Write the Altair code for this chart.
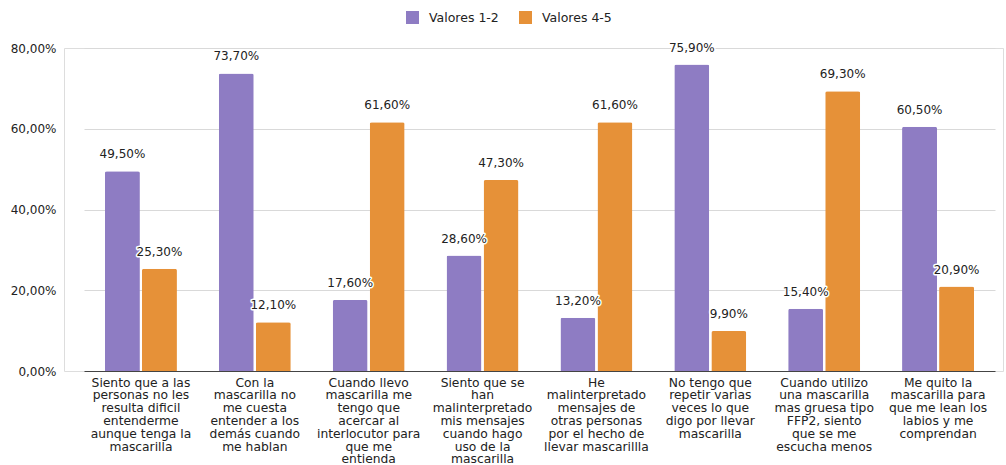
import altair as alt
import pandas as pd

# Survey statements (line breaks as shown under each group)
categorias = [
    "Siento que a las\npersonas no les\nresulta dificil\nentenderme\naunque tenga la\nmascarilla",
    "Con la\nmascarilla no\nme cuesta\nentender a los\ndemás cuando\nme hablan",
    "Cuando llevo\nmascarilla me\ntengo que\nacercar al\ninterlocutor para\nque me\nentienda",
    "Siento que se\nhan\nmalinterpretado\nmis mensajes\ncuando hago\nuso de la\nmascarilla",
    "He\nmalinterpretado\nmensajes de\notras personas\npor el hecho de\nllevar mascarillla",
    "No tengo que\nrepetir varias\nveces lo que\ndigo por llevar\nmascarilla",
    "Cuando utilizo\nuna mascarilla\nmas gruesa tipo\nFFP2, siento\nque se me\nescucha menos",
    "Me quito la\nmascarilla para\nque me lean los\nlabios y me\ncomprendan",
]

series = ["Valores 1-2", "Valores 4-5"]
valores_1_2 = [49.5, 73.7, 17.6, 28.6, 13.2, 75.9, 15.4, 60.5]
valores_4_5 = [25.3, 12.1, 61.6, 47.3, 61.6, 9.9, 69.3, 20.9]
colores = ["#8e7cc3", "#e69138"]

filas = []
for cat, v1, v2 in zip(categorias, valores_1_2, valores_4_5):
    for serie, v in ((series[0], v1), (series[1], v2)):
        filas.append({
            "categoria": cat,
            "serie": serie,
            "valor": v,
            "etiqueta": f"{v:.2f}".replace(".", ",") + "%",
        })
df = pd.DataFrame(filas)

FONT = "DejaVu Sans"
TEXT = "#222222"

x_enc = alt.X(
    "categoria:N",
    sort=categorias,
    scale=alt.Scale(range=[20, 931], paddingInner=0.3675, paddingOuter=0.18375),
    axis=alt.Axis(
        title=None,
        labelAngle=0,
        labelExpr="split(datum.label, '\\n')",
        labelOverlap=False,
        labelFont=FONT,
        labelFontSize=12.3,
        labelLineHeight=12.8,
        labelColor=TEXT,
        labelPadding=5,
        labelLimit=300,
        ticks=False,
        domainColor="#444444",
        domainWidth=1,
        grid=False,
    ),
)
xoff = alt.XOffset("serie:N", sort=series, scale=alt.Scale(paddingInner=0.055))

base = alt.Chart(df)

barras = base.mark_bar(cornerRadiusTopLeft=2, cornerRadiusTopRight=2).encode(
    x=x_enc,
    xOffset=xoff,
    y=alt.Y(
        "valor:Q",
        scale=alt.Scale(domain=[0, 80], nice=False),
        axis=alt.Axis(
            title=None,
            values=[0, 20, 40, 60, 80],
            labelExpr="replace(format(datum.value, '.2f'), '.', ',') + '%'",
            labelFont=FONT,
            labelFontSize=12,
            labelColor=TEXT,
            labelPadding=8,
            ticks=False,
            domain=False,
            gridColor="#d9d9d9",
        ),
    ),
    color=alt.Color(
        "serie:N",
        sort=series,
        scale=alt.Scale(domain=series, range=colores),
        legend=alt.Legend(
            title=None,
            orient="none",
            direction="horizontal",
            legendX=342,
            legendY=-37,
            symbolType="square",
            symbolSize=169,
            symbolStrokeWidth=0,
            symbolOpacity=1,
            labelFont=FONT,
            labelFontSize=12.5,
            labelColor=TEXT,
            labelOffset=10,
            columnPadding=20,
            padding=0,
        ),
    ),
)

# White halo under the value labels, then the labels themselves
halo = base.mark_text(
    font=FONT, fontSize=12, baseline="middle", dy=-17,
    stroke="white", strokeWidth=3, strokeJoin="round", color="white",
).encode(x=x_enc, xOffset=xoff, y="valor:Q", text="etiqueta:N")

etiquetas = base.mark_text(
    font=FONT, fontSize=12, baseline="middle", dy=-17, color=TEXT,
).encode(x=x_enc, xOffset=xoff, y="valor:Q", text="etiqueta:N")

chart = (
    alt.layer(barras, halo, etiquetas)
    .properties(
        width=939,
        height=323,
        autosize=alt.AutoSizeParams(type="none"),
        padding={"left": 64, "top": 48, "right": 3, "bottom": 94},
    )
    .configure_view(stroke=None)
    .configure(background="white")
)

chart.save("out.html", embed_options={"renderer": "svg", "actions": False})
